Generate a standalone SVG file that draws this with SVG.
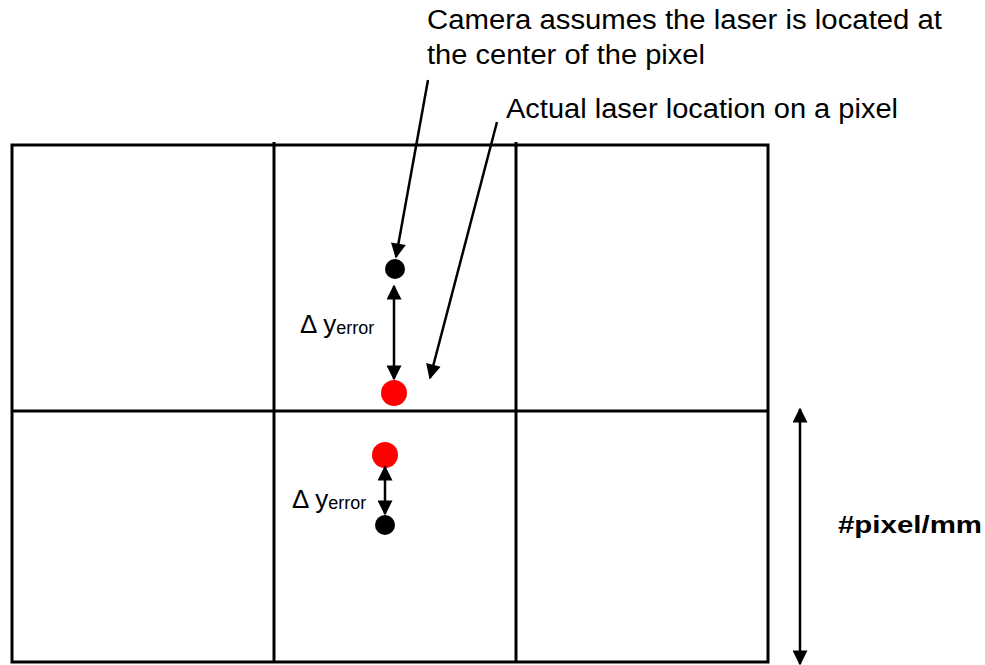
<svg xmlns="http://www.w3.org/2000/svg" width="985" height="665" viewBox="0 0 985 665">
<style>
.grid{stroke:#000;stroke-width:3;fill:none}
.conn{stroke:#000;stroke-width:2.5;fill:none}
.lbl{font-family:"Liberation Sans",Arial,sans-serif;fill:#000}
</style>
<defs>
<marker id="ah" viewBox="0 0 10 10" refX="9" refY="5" markerWidth="7" markerHeight="6" orient="auto-start-reverse" markerUnits="strokeWidth">
<path d="M0,0 L10,5 L0,10 z" fill="#000"/>
</marker>
</defs>
<rect width="985" height="665" fill="#fff"/>
<g id="grid">
<rect class="grid" x="12" y="145" width="756" height="517"/>
<line class="grid" x1="12" y1="411" x2="768" y2="411"/>
<line class="grid" x1="274" y1="142" x2="274" y2="662"/>
<line class="grid" x1="516" y1="142" x2="516" y2="662"/>
</g>
<g id="label-camera">
<text class="lbl" x="427" y="29" font-size="27" textLength="515" lengthAdjust="spacingAndGlyphs">Camera assumes the laser is located at</text>
<text class="lbl" x="427" y="64" font-size="27" textLength="278" lengthAdjust="spacingAndGlyphs">the center of the pixel</text>
</g>
<g id="label-actual">
<text class="lbl" x="506" y="118" font-size="27" textLength="392" lengthAdjust="spacingAndGlyphs">Actual laser location on a pixel</text>
</g>
<g id="dot-black-1"><circle cx="395" cy="269" r="10" fill="#000"/></g>
<g id="dot-red-1"><circle cx="394" cy="393" r="13" fill="#f00"/></g>
<g id="dot-red-2"><circle cx="385" cy="455" r="13" fill="#f00"/></g>
<g id="dot-black-2"><circle cx="385" cy="525" r="10" fill="#000"/></g>
<g id="label-dy1">
<text class="lbl" x="300" y="333" font-size="26">Δ y<tspan font-size="18" dy="1">error</tspan></text>
</g>
<g id="label-dy2">
<text class="lbl" x="292" y="508" font-size="26">Δ y<tspan font-size="18" dy="1">error</tspan></text>
</g>
<g id="label-pixelmm">
<text class="lbl" x="838" y="533" font-size="24" font-weight="bold" textLength="144" lengthAdjust="spacingAndGlyphs">#pixel/mm</text>
</g>
<g id="connectors">
<line class="conn" x1="428" y1="80" x2="396" y2="257" marker-end="url(#ah)"/>
<line class="conn" x1="497" y1="122" x2="430" y2="378" marker-end="url(#ah)"/>
<line class="conn" x1="394" y1="286" x2="394" y2="379" stroke-width="3" marker-start="url(#ah)" marker-end="url(#ah)"/>
<line class="conn" x1="385" y1="467" x2="385" y2="514" marker-start="url(#ah)" marker-end="url(#ah)"/>
<line class="conn" x1="800" y1="409" x2="800" y2="664" marker-start="url(#ah)" marker-end="url(#ah)"/>
</g>
</svg>
